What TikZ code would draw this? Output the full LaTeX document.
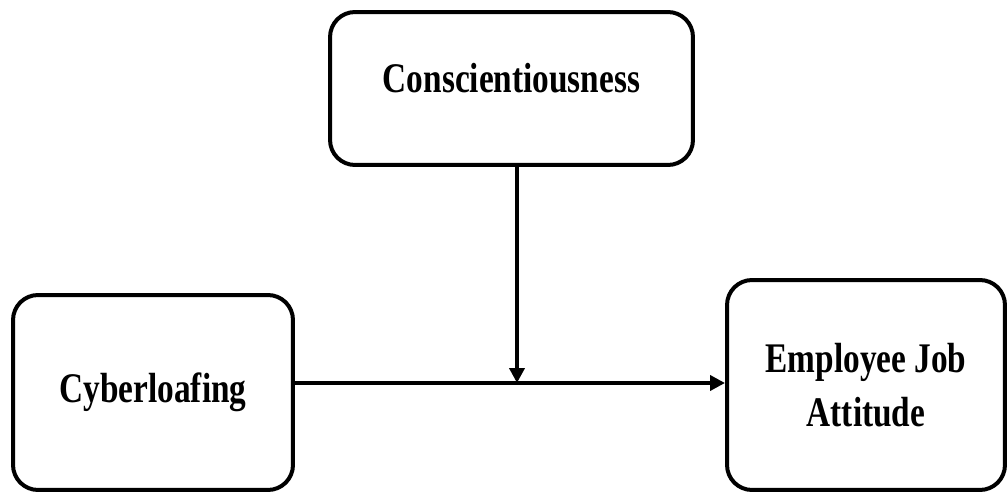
\documentclass[tikz,border=0pt]{standalone}
\usepackage{fontspec}
\usetikzlibrary{arrows.meta}
\newfontfamily\boxfont[FakeStretch=0.79]{Liberation Serif}
\begin{document}
\begin{tikzpicture}[x=0.02cm,y=-0.02cm]
		\tikzstyle{factor} = [draw, rounded corners=0.5cm, line width=0.08cm, align=center, font=\boxfont\bfseries\fontsize{24}{31}\selectfont]
		\tikzstyle{link} = [line width=0.08cm, -{Triangle[length=0.3cm,width=0.3cm]}]
	    \useasboundingbox (0,0) rectangle (1008,493);
	    \node[factor, minimum width=7.26cm, minimum height=3.06cm, text depth=0.44cm] (consc) at (511.5,88.5) {Conscientiousness};
	    \node[factor, minimum width=5.6cm, minimum height=3.9cm] (cyber) at (153,392.5) {Cyberloafing};
	    \node[factor, minimum width=5.56cm, minimum height=4.2cm] (attitude) at (866,385) {Employee Job\\Attitude};
	    \coordinate (join) at (517,383);
	    \draw[link] (cyber.east |- join) -- (attitude.west |- join);
	    \draw[link] (consc.south -| join) -- (join);
	\end{tikzpicture}
\end{document}
